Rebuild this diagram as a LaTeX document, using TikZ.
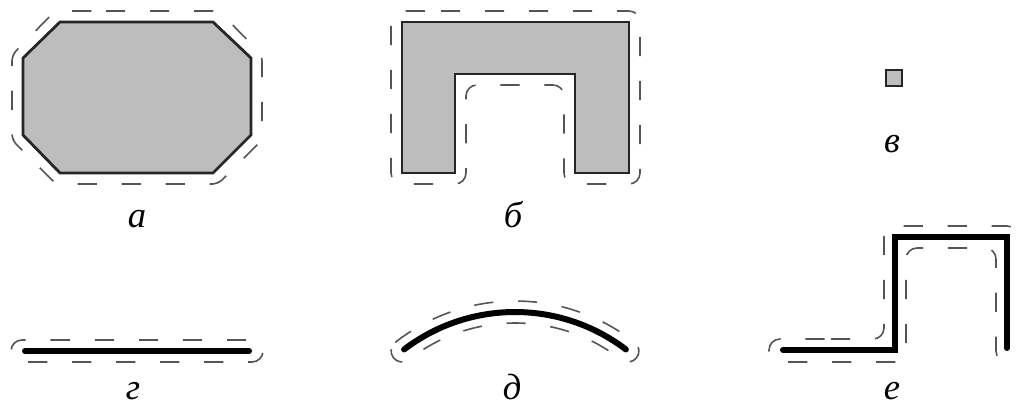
\documentclass[tikz,border=0pt]{standalone}
\usepackage{fontspec}
\setmainfont{Liberation Serif}
\usepackage{tikz}
\usetikzlibrary{calc}
\definecolor{partgray}{HTML}{BDBDBD}
\definecolor{edgeblack}{HTML}{262626}
\definecolor{zonegray}{HTML}{555555}

\begin{document}
\begin{tikzpicture}[x=0.25mm, y=-0.25mm, every node/.style={font=\fontsize{26}{28}\selectfont\itshape}, part/.style={draw=edgeblack, fill=partgray, line width=0.7mm}, wire/.style={line width=1.5mm, line cap=round}, zone/.style={draw=zonegray, line width=0.4mm, dash pattern=on 4.8mm off 6.2mm, rounded corners=2.75mm}, lbl/.style={anchor=base}]
\useasboundingbox (0,0) rectangle (1016,408);
% a: octagon
\draw[part] (60,22) -- (213,22) -- (251,58) -- (251,135) -- (213,173) -- (60,173) -- (23,135) -- (23,58) -- cycle;
\draw[zone, rounded corners=1.5mm] (100,11) -- (219,11) -- (262,55) -- (262,140) -- (218,184) -- (56,184) -- (12,140) -- (12,55) -- (55,11) -- cycle;
\node[lbl] (la) at (137,227) {а};
% b: U-shape
\draw[part] (402,22) -- (629,22) -- (629,173) -- (575,173) -- (575,74) -- (455,74) -- (455,173) -- (402,173) -- cycle;
\draw[zone] (430,11) -- (640,11) -- (640,184) -- (564,184) -- (564,85) -- (466,85) -- (466,184) -- (391,184) -- (391,11) -- cycle;
\node[lbl] (lb) at (513,227) {б};
% c: small square
\draw[part, line width=0.5mm] (886,70) rectangle (902,86);
\node[lbl] (lc) at (892,152) {в};
% d: straight wire
\draw[wire] (25,351) -- (249,351);
\draw[zone] (40,340) -- (263,340) -- (263,362) -- (11,362) -- (11,340) -- cycle;
\node[lbl] (ld) at (133,399) {г};
% e: bent wire
\coordinate (dc) at (515,495);
\draw[wire] ($(dc)+(-127.3:183)$) arc[start angle=-127.3, end angle=-52.7, radius=183];
\draw[zone, rounded corners=0pt] ($(dc)+(-128.1:194)$) arc[start angle=-128.1, end angle=-51.9, radius=194] arc[start angle=-51.9, end angle=128.1, radius=11] arc[start angle=-51.9, end angle=-128.1, radius=172] arc[start angle=51.9, end angle=231.9, radius=11] -- cycle;
\node[lbl] (le) at (512,399) {д};
% f: stepped wire
\draw[wire, line cap=round, line join=miter] (783,350) -- (895,350) -- (895,237) -- (1007,237) -- (1007,348);
\draw[zone] (820,339) -- (884,339) -- (884,226) -- (1018,226) -- (1018,362) -- (996,362) -- (996,248) -- (906,248) -- (906,362) -- (769,362) -- (769,339) -- cycle;
\node[lbl] (lf) at (892,399) {е};
\end{tikzpicture}
\end{document}
